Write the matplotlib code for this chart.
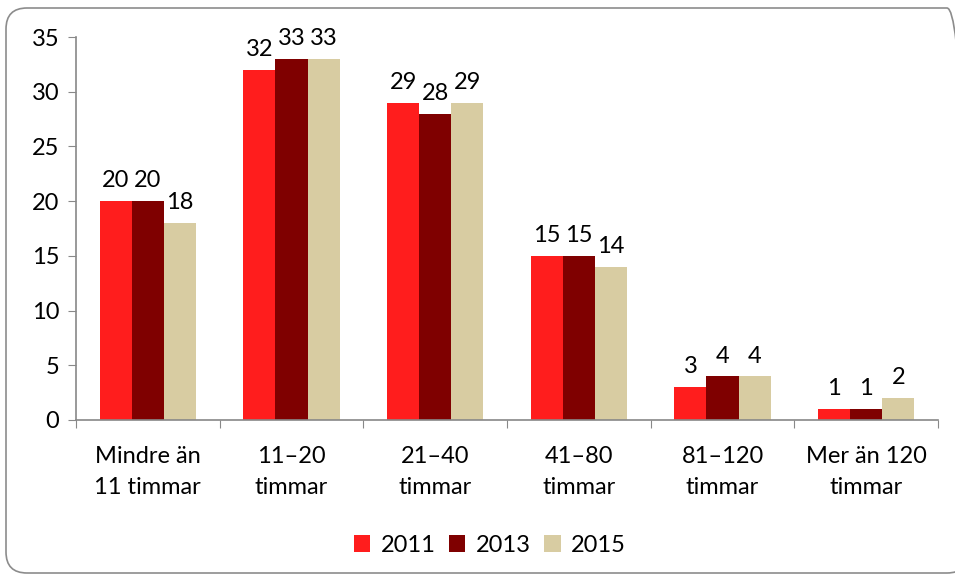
import matplotlib
matplotlib.use("Agg")
import matplotlib.pyplot as plt
from matplotlib.patches import FancyBboxPatch
import numpy as np

categories = ["Mindre än\n11 timmar", "11–20\ntimmar", "21–40\ntimmar", "41–80\ntimmar", "81–120\ntimmar", "Mer än 120\ntimmar"]
years = ["2011", "2013", "2015"]
v2011 = [20, 32, 29, 15, 3, 1]
v2013 = [20, 33, 28, 15, 4, 1]
v2015 = [18, 33, 29, 14, 4, 2]
colors = ["#FF1D1D", "#7F0000", "#D8CCA2"]

plt.rcParams['font.family'] = ['Lato', 'DejaVu Sans']
FS = 17

fig = plt.figure(figsize=(9.55, 5.76), dpi=100)
border = FancyBboxPatch((6/955, 3/576), 962/955, 565/576, boxstyle="round,pad=0,rounding_size=0.022",
                        transform=fig.transFigure, fill=False, edgecolor="#8C8C8C", linewidth=1.2,
                        mutation_aspect=955/576)
fig.patches.append(border)

ax = fig.add_axes([76/955, 1-420/576, 862/955, 383/576])
x = np.arange(len(categories))
w = 0.223
for i, (vals, c, lab) in enumerate(zip([v2011, v2013, v2015], colors, years)):
    xs = x + (i - 1) * w
    ax.bar(xs, vals, width=w, color=c, label=lab)
    for xx, v in zip(xs, vals):
        ax.annotate(str(v), (xx, v), xytext=(0, 7), textcoords="offset points",
                    ha="center", va="bottom", fontsize=FS)

ax.set_xlim(-0.5, len(categories) - 0.5)
ax.set_ylim(0, 35)
ax.set_yticks(range(0, 36, 5))
ax.set_xticks(np.arange(-0.5, len(categories), 1.0))
ax.set_xticklabels([])
ax.set_xticks(x, minor=True)
ax.set_xticklabels(categories, minor=True, fontsize=FS, linespacing=1.55)
ax.tick_params(axis="x", which="minor", length=0, pad=19)
ax.tick_params(axis="x", which="major", length=6, color="#888888", direction="out")
ax.tick_params(axis="y", length=6, color="#888888", labelsize=FS, pad=6)
for s in ["top", "right"]:
    ax.spines[s].set_visible(False)
for s in ["left", "bottom"]:
    ax.spines[s].set_color("#888888")
    ax.spines[s].set_linewidth(1.2)

fig.legend(loc="center", bbox_to_anchor=(490/955, 1-545/576), ncol=3, frameon=False,
           fontsize=FS, handlelength=0.7, handleheight=0.7, columnspacing=0.55, handletextpad=0.45)

fig.savefig("out.png", dpi=100)
